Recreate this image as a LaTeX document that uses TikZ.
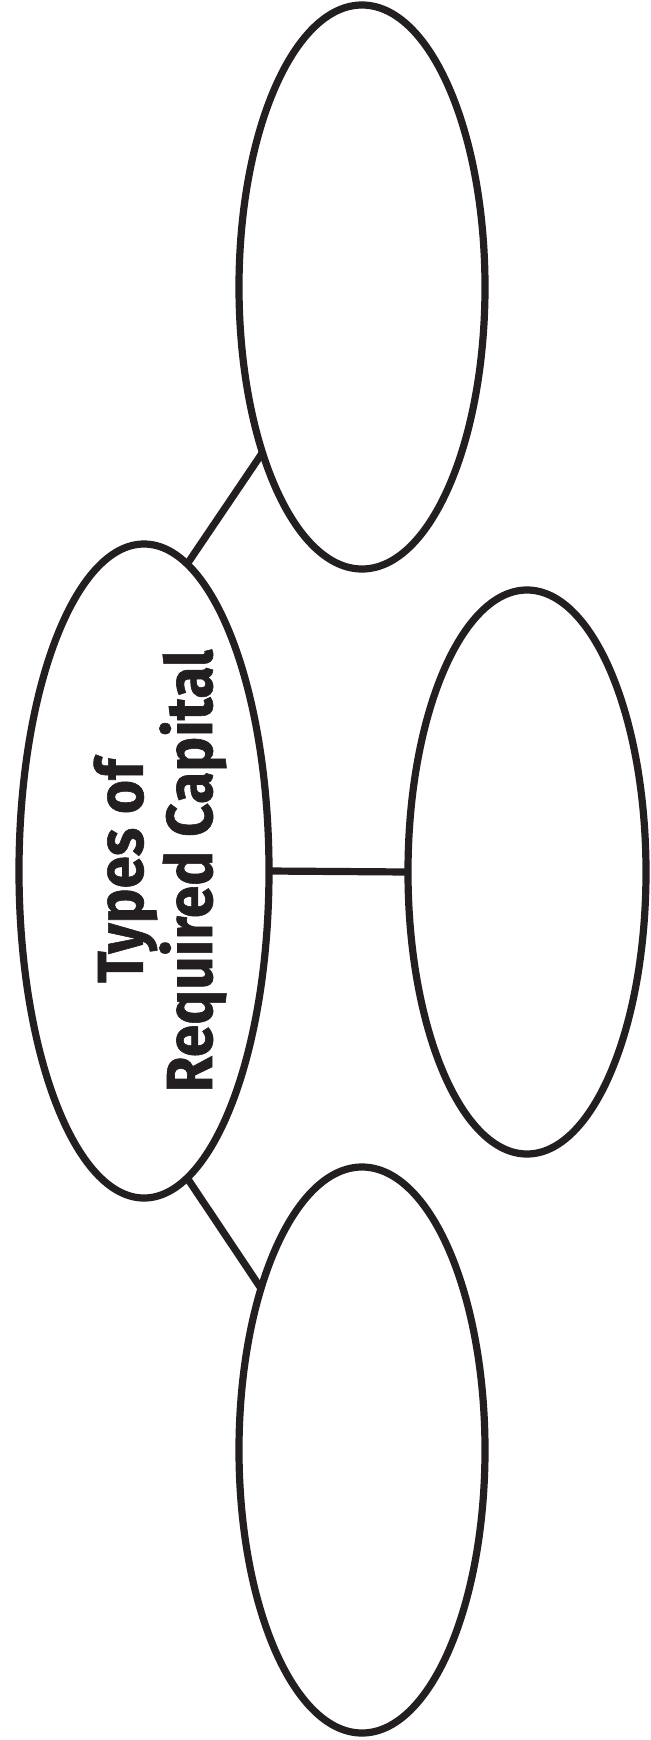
\documentclass[tikz,border=0pt]{standalone}
\usepackage{fontspec}
\usepackage{tikz}
\newfontfamily\hubfont[FakeStretch=0.90, FakeBold=0.9]{Fira Sans}
\definecolor{inkdark}{RGB}{35,31,32}
\usetikzlibrary{shapes.geometric, positioning}

\begin{document}
\begin{tikzpicture}[
  x=0.5pt, y=-0.5pt,
  bubble/.style={ellipse, draw=inkdark, line width=3.6pt, fill=white,
    inner sep=0pt, outer sep=0pt},
  spoke/.style={draw=inkdark, line width=3.6pt},
]
  \useasboundingbox (0,0) rectangle (651,1740);

  % centre ellipse and the three empty ones
  \node[bubble, minimum width=125pt, minimum height=327pt] (hub) at (144,871) {};
  \node[bubble, minimum width=123pt, minimum height=282pt] (top) at (362,287) {};
  \node[bubble, minimum width=119pt, minimum height=282pt] (mid) at (527,872) {};
  \node[bubble, minimum width=123pt, minimum height=283pt] (bot) at (362,1450) {};

  \node[rotate=90, align=center, text=inkdark,
        font=\hubfont\bfseries\fontsize{32.5}{32}\selectfont]
    (title) at (160,871) {Types of\\Required Capital};

  \draw[spoke] (hub.82) -- (top.239);
  \draw[spoke] (hub.east) -- (mid.west);
  \draw[spoke] (hub.-82) -- (bot.122);
\end{tikzpicture}
\end{document}
